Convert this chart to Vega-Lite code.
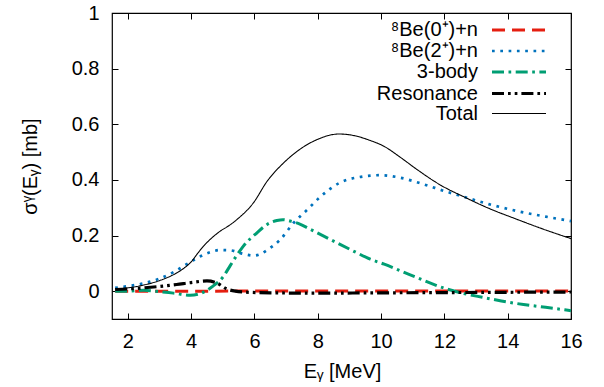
{
  "$schema": "https://vega.github.io/schema/vega-lite/v6.json",
  "autosize": {"type": "none"},
  "width": 459,
  "height": 306,
  "padding": {"left": 112, "top": 13, "right": 33, "bottom": 68},
  "config": {
    "font": "Liberation Sans",
    "view": {"stroke": "#000", "strokeWidth": 1.2},
    "axis": {"grid": false, "labelFontSize": 20, "titleFontSize": 20, "titleFontWeight": "normal", "labelColor": "#000", "titleColor": "#000", "tickColor": "#000", "domain": false},
    "legend": {"title": null, "orient": "none", "legendX": 379, "legendY": 6.5, "padding": 0, "rowPadding": -1.3, "symbolType": "M-3,0H3", "symbolSize": 324, "symbolOffset": 17, "symbolFillColor": "transparent", "labelAlign": "right", "labelOffset": -52, "labelFontSize": 20, "labelColor": "#000", "labelLimit": 300}
  },
  "data": {"values": [
    {"s": "⁸Be(0⁺)+n", "E": 1.6, "v": 0.0},
    {"s": "⁸Be(0⁺)+n", "E": 4.0, "v": 0.0},
    {"s": "⁸Be(0⁺)+n", "E": 8.0, "v": 0.001},
    {"s": "⁸Be(0⁺)+n", "E": 12.0, "v": 0.001},
    {"s": "⁸Be(0⁺)+n", "E": 16.0, "v": 0.001},

    {"s": "⁸Be(2⁺)+n", "E": 1.6, "v": 0.012},
    {"s": "⁸Be(2⁺)+n", "E": 2.0, "v": 0.018},
    {"s": "⁸Be(2⁺)+n", "E": 2.5, "v": 0.028},
    {"s": "⁸Be(2⁺)+n", "E": 3.0, "v": 0.045},
    {"s": "⁸Be(2⁺)+n", "E": 3.5, "v": 0.072},
    {"s": "⁸Be(2⁺)+n", "E": 3.86, "v": 0.097},
    {"s": "⁸Be(2⁺)+n", "E": 4.2, "v": 0.12},
    {"s": "⁸Be(2⁺)+n", "E": 4.6, "v": 0.14},
    {"s": "⁸Be(2⁺)+n", "E": 4.92, "v": 0.148},
    {"s": "⁸Be(2⁺)+n", "E": 5.23, "v": 0.147},
    {"s": "⁸Be(2⁺)+n", "E": 5.65, "v": 0.134},
    {"s": "⁸Be(2⁺)+n", "E": 5.97, "v": 0.128},
    {"s": "⁸Be(2⁺)+n", "E": 6.2, "v": 0.134},
    {"s": "⁸Be(2⁺)+n", "E": 6.4, "v": 0.148},
    {"s": "⁸Be(2⁺)+n", "E": 6.82, "v": 0.186},
    {"s": "⁸Be(2⁺)+n", "E": 7.24, "v": 0.246},
    {"s": "⁸Be(2⁺)+n", "E": 7.66, "v": 0.292},
    {"s": "⁸Be(2⁺)+n", "E": 8.08, "v": 0.339},
    {"s": "⁸Be(2⁺)+n", "E": 8.7, "v": 0.39},
    {"s": "⁸Be(2⁺)+n", "E": 9.3, "v": 0.41},
    {"s": "⁸Be(2⁺)+n", "E": 9.98, "v": 0.417},
    {"s": "⁸Be(2⁺)+n", "E": 10.6, "v": 0.408},
    {"s": "⁸Be(2⁺)+n", "E": 11.35, "v": 0.384},
    {"s": "⁸Be(2⁺)+n", "E": 12.0, "v": 0.36},
    {"s": "⁸Be(2⁺)+n", "E": 12.62, "v": 0.339},
    {"s": "⁸Be(2⁺)+n", "E": 13.4, "v": 0.313},
    {"s": "⁸Be(2⁺)+n", "E": 14.3, "v": 0.288},
    {"s": "⁸Be(2⁺)+n", "E": 15.2, "v": 0.268},
    {"s": "⁸Be(2⁺)+n", "E": 16.0, "v": 0.252},

    {"s": "3-body", "E": 1.6, "v": 0.0},
    {"s": "3-body", "E": 2.0, "v": 0.0},
    {"s": "3-body", "E": 2.5, "v": 0.003},
    {"s": "3-body", "E": 3.0, "v": -0.002},
    {"s": "3-body", "E": 3.44, "v": -0.007},
    {"s": "3-body", "E": 3.97, "v": -0.015},
    {"s": "3-body", "E": 4.3, "v": -0.008},
    {"s": "3-body", "E": 4.7, "v": 0.019},
    {"s": "3-body", "E": 5.0, "v": 0.05},
    {"s": "3-body", "E": 5.23, "v": 0.091},
    {"s": "3-body", "E": 5.45, "v": 0.13},
    {"s": "3-body", "E": 5.65, "v": 0.162},
    {"s": "3-body", "E": 6.08, "v": 0.21},
    {"s": "3-body", "E": 6.4, "v": 0.24},
    {"s": "3-body", "E": 6.71, "v": 0.254},
    {"s": "3-body", "E": 6.9, "v": 0.257},
    {"s": "3-body", "E": 7.13, "v": 0.252},
    {"s": "3-body", "E": 7.4, "v": 0.243},
    {"s": "3-body", "E": 7.77, "v": 0.222},
    {"s": "3-body", "E": 8.5, "v": 0.18},
    {"s": "3-body", "E": 9.2, "v": 0.14},
    {"s": "3-body", "E": 9.66, "v": 0.115},
    {"s": "3-body", "E": 10.1, "v": 0.097},
    {"s": "3-body", "E": 11.0, "v": 0.055},
    {"s": "3-body", "E": 12.1, "v": 0.007},
    {"s": "3-body", "E": 12.6, "v": -0.008},
    {"s": "3-body", "E": 13.2, "v": -0.022},
    {"s": "3-body", "E": 13.8, "v": -0.035},
    {"s": "3-body", "E": 14.5, "v": -0.048},
    {"s": "3-body", "E": 15.2, "v": -0.058},
    {"s": "3-body", "E": 15.8, "v": -0.067},
    {"s": "3-body", "E": 16.0, "v": -0.07},

    {"s": "Resonance", "E": 1.6, "v": 0.006},
    {"s": "Resonance", "E": 2.0, "v": 0.008},
    {"s": "Resonance", "E": 2.5, "v": 0.012},
    {"s": "Resonance", "E": 3.0, "v": 0.017},
    {"s": "Resonance", "E": 3.54, "v": 0.024},
    {"s": "Resonance", "E": 4.0, "v": 0.031},
    {"s": "Resonance", "E": 4.5, "v": 0.037},
    {"s": "Resonance", "E": 4.8, "v": 0.03},
    {"s": "Resonance", "E": 5.13, "v": 0.008},
    {"s": "Resonance", "E": 5.4, "v": 0.0},
    {"s": "Resonance", "E": 5.65, "v": -0.003},
    {"s": "Resonance", "E": 6.5, "v": -0.006},
    {"s": "Resonance", "E": 8.0, "v": -0.007},
    {"s": "Resonance", "E": 10.0, "v": -0.006},
    {"s": "Resonance", "E": 12.0, "v": -0.005},
    {"s": "Resonance", "E": 14.0, "v": -0.004},
    {"s": "Resonance", "E": 16.0, "v": -0.003},

    {"s": "Total", "E": 1.6, "v": 0.008},
    {"s": "Total", "E": 2.0, "v": 0.012},
    {"s": "Total", "E": 2.5, "v": 0.022},
    {"s": "Total", "E": 3.0, "v": 0.038},
    {"s": "Total", "E": 3.5, "v": 0.063},
    {"s": "Total", "E": 3.8, "v": 0.085},
    {"s": "Total", "E": 4.0, "v": 0.105},
    {"s": "Total", "E": 4.2, "v": 0.135},
    {"s": "Total", "E": 4.4, "v": 0.163},
    {"s": "Total", "E": 4.6, "v": 0.186},
    {"s": "Total", "E": 4.92, "v": 0.216},
    {"s": "Total", "E": 5.2, "v": 0.236},
    {"s": "Total", "E": 5.45, "v": 0.258},
    {"s": "Total", "E": 5.97, "v": 0.318},
    {"s": "Total", "E": 6.4, "v": 0.395},
    {"s": "Total", "E": 6.92, "v": 0.461},
    {"s": "Total", "E": 7.5, "v": 0.515},
    {"s": "Total", "E": 7.98, "v": 0.545},
    {"s": "Total", "E": 8.66, "v": 0.565},
    {"s": "Total", "E": 9.2, "v": 0.558},
    {"s": "Total", "E": 9.6, "v": 0.544},
    {"s": "Total", "E": 10.09, "v": 0.521},
    {"s": "Total", "E": 10.6, "v": 0.482},
    {"s": "Total", "E": 11.14, "v": 0.437},
    {"s": "Total", "E": 11.9, "v": 0.38},
    {"s": "Total", "E": 12.62, "v": 0.339},
    {"s": "Total", "E": 13.4, "v": 0.298},
    {"s": "Total", "E": 14.3, "v": 0.258},
    {"s": "Total", "E": 15.1, "v": 0.224},
    {"s": "Total", "E": 16.0, "v": 0.189}
  ]},
  "resolve": {"axis": {"x": "independent", "y": "independent"}},
  "layer": [
    {
      "mark": {"type": "line", "interpolate": "monotone", "strokeCap": "butt"},
      "encoding": {
        "x": {"field": "E", "type": "quantitative", "scale": {"domain": [1.5, 16], "nice": false, "zero": false},
          "axis": {"orient": "bottom", "values": [2, 4, 6, 8, 10, 12, 14, 16], "ticks": false, "tickSize": 0, "labelPadding": 28, "labelBaseline": "alphabetic", "labelFlush": false, "title": "Eᵧ [MeV]", "titleX": 230, "titleY": 58, "titleBaseline": "alphabetic", "titleAlign": "center"}},
        "y": {"field": "v", "type": "quantitative", "scale": {"domain": [-0.1, 1], "nice": false, "zero": false},
          "axis": {"orient": "left", "values": [0, 0.2, 0.4, 0.6, 0.8, 1], "format": "~g", "ticks": false, "tickSize": 0, "labelPadding": 13, "labelFlush": false, "title": "σᵞ(Eᵧ) [mb]", "titleX": -82, "titleY": 153, "titleAngle": -90, "titleAlign": "center", "titleBaseline": "middle"}},
        "color": {"field": "s", "type": "nominal",
          "scale": {"domain": ["⁸Be(0⁺)+n", "⁸Be(2⁺)+n", "3-body", "Resonance", "Total"], "range": ["#e51e10", "#0072bd", "#009e73", "#000000", "#000000"]}},
        "strokeDash": {"field": "s", "type": "nominal",
          "scale": {"domain": ["⁸Be(0⁺)+n", "⁸Be(2⁺)+n", "3-body", "Resonance", "Total"], "range": [[13, 7], [2.7, 5.6], [12, 4.5, 2.7, 4.5], [12, 4, 2.7, 4, 2.7, 4], [1, 0]]}},
        "strokeWidth": {"field": "s", "type": "nominal",
          "scale": {"type": "ordinal", "domain": ["⁸Be(0⁺)+n", "⁸Be(2⁺)+n", "3-body", "Resonance", "Total"], "range": [3, 2.7, 3, 3.2, 1.1]}}
      }
    },
    {
      "mark": {"type": "point", "opacity": 0},
      "encoding": {
        "x": {"field": "E", "type": "quantitative", "axis": {"orient": "bottom", "offset": -6, "values": [2, 4, 6, 8, 10, 12, 14, 16], "labels": false, "ticks": true, "tickSize": 6, "title": null}},
        "y": {"field": "v", "type": "quantitative", "axis": {"orient": "left", "offset": -6, "values": [0, 0.2, 0.4, 0.6, 0.8, 1], "labels": false, "ticks": true, "tickSize": 6, "title": null}}
      }
    },
    {
      "mark": {"type": "point", "opacity": 0},
      "encoding": {
        "x": {"field": "E", "type": "quantitative", "axis": {"orient": "top", "offset": -6, "values": [2, 4, 6, 8, 10, 12, 14, 16], "labels": false, "ticks": true, "tickSize": 6, "title": null}},
        "y": {"field": "v", "type": "quantitative", "axis": {"orient": "right", "offset": -6, "values": [0, 0.2, 0.4, 0.6, 0.8, 1], "labels": false, "ticks": true, "tickSize": 6, "title": null}}
      }
    }
  ]
}
